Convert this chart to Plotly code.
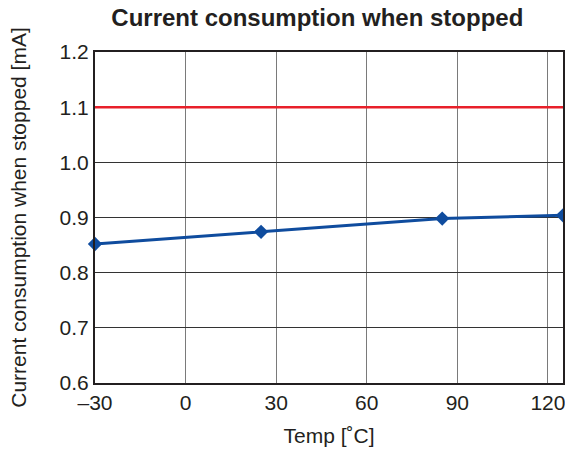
import plotly.graph_objects as go

temps = [-30, 25, 85, 125]
current = [0.852, 0.874, 0.898, 0.904]
limit_x = [-30, 125]
limit_y = [1.1, 1.1]
x_ticks = [-30, 0, 30, 60, 90, 120]
x_tick_labels = ["\u201330", "0", "30", "60", "90", "120"]
y_ticks = [0.6, 0.7, 0.8, 0.9, 1.0, 1.1, 1.2]
y_tick_labels = ["0.6", "0.7", "0.8", "0.9", "1.0", "1.1", "1.2"]

fig = go.Figure()
fig.add_trace(go.Scatter(x=limit_x, y=limit_y, mode="lines",
                         line=dict(color="#e8202a", width=2.5),
                         hoverinfo="skip", showlegend=False))
fig.add_trace(go.Scatter(x=temps, y=current, mode="lines+markers",
                         line=dict(color="#0f4c9e", width=3),
                         marker=dict(symbol="diamond", size=11, color="#0f4c9e"),
                         cliponaxis=False, showlegend=False))

font = "Liberation Sans, Arial, Helvetica, sans-serif"
fig.update_layout(
    width=565, height=452,
    margin=dict(l=95, r=2, t=52, b=69, autoexpand=False),
    paper_bgcolor="white", plot_bgcolor="white",
    font=dict(family=font, size=21, color="#231f20"),
    title=dict(text="<b>Current consumption when stopped</b>",
               x=0.475, xanchor="center", xref="paper", y=0.962, yanchor="middle",
               font=dict(size=24, color="#231f20")),
    xaxis=dict(range=[-30, 125], tickvals=x_ticks, ticktext=x_tick_labels,
               showgrid=True, gridcolor="#7a7a7a", gridwidth=1.2,
               showline=True, linecolor="#231f20", linewidth=2, mirror=True,
               zeroline=False, ticks="", ticklen=0, automargin=False,
               ticklabeloverflow="allow",
               tickfont=dict(size=21),
               title=dict(text="Temp [\u02daC]", standoff=15, font=dict(size=21))),
    yaxis=dict(range=[0.6, 1.2], tickvals=y_ticks, ticktext=y_tick_labels,
               showgrid=True, gridcolor="#333333", gridwidth=1.2,
               showline=True, linecolor="#231f20", linewidth=2, mirror=True,
               zeroline=False, ticks="", ticklen=0, automargin=False,
               tickfont=dict(size=21),
               title=dict(text="Current consumption when stopped [mA]", standoff=27,
                          font=dict(size=21))),
)
fig.write_html("out.html", config={"displayModeBar": False},
               post_script="document.body.style.margin='0';document.body.style.overflow='hidden';")
